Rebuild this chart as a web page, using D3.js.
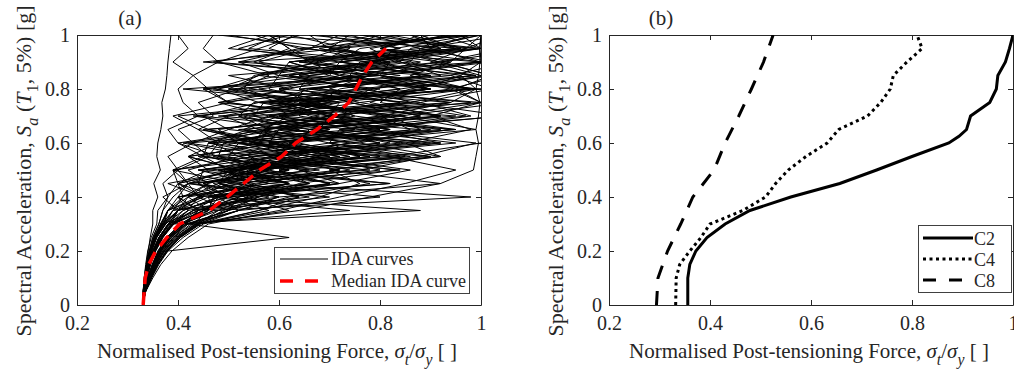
<!DOCTYPE html>
<html>
<head>
<meta charset="utf-8">
<script src="https://d3js.org/d3.v7.min.js"></script>
<style>
  body { margin: 0; background: #fff; }
  svg { display: block; }
  text { font-family: "Liberation Serif", "Times New Roman", serif; fill: #262626; }
</style>
</head>
<body>
<svg id="chart" width="1014" height="371"></svg>
<script>
// ---- data -------------------------------------------------------------
// intensity levels (Sa, g) used by every IDA curve in panel (a)
const saLevels = [0,0.05,0.1,0.15,0.2,0.25,0.3,0.35,0.4,0.45,0.5,0.55,0.6,0.65,0.7,0.75,0.8,0.85,0.9,0.95,1.0];

// normalised post-tensioning force of each IDA curve at each Sa level
const idaCurves = [
  [.33,.331,.333,.337,.341,.345,.35,.35,.36,.352,.365,.358,.36,.366,.37,.368,.375,.378,.38,.383,.386],
  [.33,.333,.337,.344,.352,.366,.386,.40,.37,.42,.39,.45,.40,.38,.44,.41,.40,.43,.39,.42,.40],
  [.33,.332,.336,.341,.347,.356,.372,.38,.45,.40,.52,.42,.48,.44,.39,.50,.46,.43,.48,.45,.47],
  [.33,.333,.338,.345,.354,.368,.39,.42,.55,.45,.62,.48,.40,.58,.70,.50,.45,.66,.55,.62,.58],
  [.33,.334,.341,.352,.365,.384,.415,.44,.40,.58,.48,.72,.55,.45,.82,.60,.52,.76,.88,.70,.66],
  [.33,.335,.346,.36,.378,.405,.445,.52,.48,.70,.56,.85,.62,.95,.75,.66,.90,.80,1.02,.88,1.05],
  [.33,.332,.335,.339,.345,.353,.368,.39,.45,.38,.52,.42,.60,.46,.40,.66,.50,.56,.72,.52,.62],
  [.33,.334,.344,.358,.38,.62,.42,.50,.44,.66,.52,.80,.58,.92,.70,.60,.88,.96,.78,1.0,.92],
  [.33,.333,.338,.346,.356,.37,.39,.88,.48,.62,.54,.78,.60,.90,.72,.56,.98,.80,.68,.95,.88],
  [.33,.334,.341,.352,.364,.382,.412,.47,.98,.58,.80,.66,.95,.72,1.05,.86,.78,1.02,.92,1.1,1.1],
  [.33,.334,.343,.354,.368,.39,.42,.50,.60,.92,.70,.88,.99,.76,1.04,1.1,1.1,1.1,1.1,1.1,1.1],
  [.33,.332,.334,.338,.344,.352,.366,.38,.42,.46,.56,.84,.52,.48,.70,.60,.80,.56,.68,.74,.62],
  [.33,.336,.348,.362,.38,.41,.45,.56,.64,.52,.76,.90,.70,.99,.84,1.05,1.1,1.1,1.1,1.1,1.1],
  [.33,.334,.339,.349,.36,.377,.405,.45,.55,.70,.58,.68,.85,.66,.92,.78,.86,1.0,.90,.97,1.04],
  [.33,.331,.334,.338,.343,.35,.362,.37,.39,.42,.40,.46,.43,.50,.45,.56,.48,.60,.52,.64,.55],
  [.33,.335,.344,.356,.372,.396,.435,.52,.62,.78,.64,.92,.76,.88,.82,1.0,.94,1.04,1.1,1.1,1.1],
  [.33,.333,.336,.342,.35,.362,.38,.46,.42,.58,.48,.66,.54,.76,.60,.84,.66,.90,.72,.95,.80],
  [.33,.331,.333,.336,.34,.347,.358,.36,.38,.37,.40,.38,.43,.40,.47,.44,.52,.58,.48,.56,.64],
  [.33,.335,.347,.36,.377,.402,.442,.58,.50,.72,.86,.66,.92,.78,.98,.88,1.02,.94,1.06,1.1,1.1],
  [.33,.333,.338,.344,.353,.366,.388,.43,.48,.56,.72,.52,.62,.82,.58,.70,.90,.64,.78,.92,.86],
  [.33,.332,.335,.34,.347,.357,.374,.40,.46,.55,.44,.64,.52,.70,.58,.48,.76,.62,.84,.70,.74],
  [.33,.334,.342,.352,.366,.386,.416,.50,.56,.64,.83,.60,.74,.94,.70,.86,.99,.80,1.0,.90,.98],
  [.33,.333,.337,.344,.354,.368,.39,.44,.52,.62,.50,.58,.74,.56,.84,.64,.90,.72,.62,.88,.78],
  [.33,.336,.35,.366,.388,.42,.46,.60,.72,.85,.95,.82,1.0,1.08,1.1,1.1,1.1,1.1,1.1,1.1,1.1],
  [.33,.332,.336,.341,.348,.358,.375,.41,.48,.40,.52,.60,.46,.54,.68,.50,.62,.74,.56,.66,.72],
  [.33,.333,.338,.345,.355,.37,.392,.45,.52,.62,.48,.70,.58,.78,.66,.60,.84,.74,.92,.80,.93],
  [.33,.334,.34,.349,.361,.378,.406,.48,.54,.66,.60,.76,.70,.86,.80,.94,.99,.96,1.0,.998,1.0],
  [.33,.332,.335,.339,.345,.354,.369,.40,.44,.50,.58,.47,.64,.53,.60,.72,.56,.78,.66,.84,.74],
  [.33,.334,.342,.353,.367,.387,.418,.52,.60,.48,.72,.58,.84,.66,.92,.76,.98,.86,.94,.97,1.0],
  [.33,.335,.345,.357,.373,.398,.436,.49,.56,.72,.64,.54,.80,.68,.88,.74,.64,.92,.84,.78,.94],
  [.33,.333,.337,.343,.351,.363,.382,.43,.56,.48,.50,.74,.58,.82,.64,.66,.90,.72,.78,.96,.86],
  [.33,.334,.34,.35,.363,.381,.409,.47,.46,.62,.52,.55,.80,.62,.75,.68,.72,.88,.80,.83,.98],
  [.33,.332,.335,.34,.346,.356,.371,.40,.50,.45,.58,.50,.52,.70,.58,.76,.64,.66,.86,.72,.80],
  [.33,.336,.347,.36,.378,.404,.443,.50,.52,.70,.60,.86,.70,.72,.97,.80,.84,1.02,.92,1.05,1.1],
  [.33,.333,.338,.344,.353,.367,.387,.42,.44,.54,.49,.66,.55,.57,.72,.62,.84,.70,.72,.90,.88],
  [.33,.334,.341,.351,.364,.383,.411,.44,.58,.48,.52,.68,.56,.58,.80,.63,.65,.90,.72,.76,.96],
  [.33,.332,.334,.339,.345,.355,.37,.44,.40,.42,.55,.46,.48,.64,.52,.55,.78,.60,.62,.84,.68],
  [.33,.334,.342,.355,.37,.39,.43,.46,.48,.66,.56,.76,.64,.66,.88,.74,.78,.98,.86,.88,1.0],
  [.33,.335,.345,.357,.374,.399,.438,.48,.64,.54,.56,.74,.62,.82,.70,.72,.94,.80,.82,1.0,.96],
  [.33,.331,.334,.338,.344,.353,.367,.38,.44,.42,.50,.45,.46,.56,.49,.62,.53,.55,.68,.58,.63],
  [.33,.333,.336,.342,.35,.362,.381,.40,.50,.44,.45,.60,.49,.66,.55,.57,.76,.62,.82,.68,.84],
  [.33,.336,.347,.36,.377,.402,.44,.62,.53,.55,.74,.60,.82,.68,.70,.94,.76,.99,.84,.86,1.0],
  [.33,.334,.341,.351,.364,.383,.412,.46,.47,.62,.51,.72,.58,.60,.82,.66,.90,.74,.76,.97,.82],
  [.33,.333,.337,.343,.351,.364,.384,.41,.48,.44,.57,.48,.49,.64,.53,.70,.58,.60,.80,.66,.79],
  [.33,.334,.343,.356,.372,.394,.434,.64,.78,.92,.985,.99,.995,.99,.995,.998,.99,.995,.998,.997,1.0],
  [.33,.335,.346,.359,.376,.401,.44,.56,.68,.76,.70,.92,.85,.98,.90,1.0,.95,1.02,1.05,1.1,1.1],
  [.33,.332,.335,.34,.346,.355,.37,.39,.41,.46,.42,.52,.47,.58,.52,.66,.60,.72,.66,.62,.58],
  [.33,.334,.34,.35,.362,.38,.41,.45,.54,.47,.62,.52,.70,.57,.62,.88,.70,.78,.94,.80,.88],
  [.33,.332,.336,.342,.35,.362,.38,.42,.40,.62,.44,.70,.46,.80,.48,.86,.50,.90,.52,.96,.55],
  [.33,.333,.338,.345,.355,.37,.39,.45,.70,.42,.78,.48,.88,.52,.92,.56,.98,.60,1.0,.64,1.0],
  [.33,.331,.334,.338,.344,.352,.365,.38,.40,.52,.39,.60,.42,.75,.44,.68,.41,.80,.45,.72,.48],
  [.33,.334,.342,.354,.37,.392,.425,.52,.80,.50,.84,.55,.90,.62,.95,.58,1.0,.66,.92,.70,.96],
  [.33,.333,.337,.343,.352,.364,.382,.40,.44,.72,.46,.82,.50,.88,.54,.94,.60,.84,.64,.99,.70],
  [.33,.332,.335,.34,.347,.357,.374,.39,.60,.42,.68,.44,.56,.46,.74,.48,.62,.50,.82,.54,.60],
  [.33,.334,.341,.352,.366,.386,.416,.74,.46,.82,.50,.90,.55,.95,.60,1.0,.66,.99,.72,1.0,.76],
  [.33,.333,.336,.341,.348,.358,.376,.40,.42,.48,.66,.45,.76,.50,.58,.86,.54,.70,.62,.92,.66],
  [.33,.332,.334,.338,.343,.35,.362,.37,.38,.40,.39,.55,.41,.62,.43,.70,.45,.80,.47,.66,.50],
  [.33,.334,.34,.35,.362,.379,.405,.45,.50,.82,.56,.62,.92,.60,.70,.98,.68,.76,1.0,.80,.90],
  [.33,.333,.337,.344,.354,.368,.39,.43,.66,.48,.54,.78,.52,.60,.85,.58,.66,.94,.64,.72,.98],
  [.33,.332,.335,.339,.345,.354,.369,.38,.41,.40,.46,.42,.60,.44,.50,.72,.47,.56,.78,.50,.58]
];

// median IDA curve
const medianSa = [0,0.05,0.1,0.15,0.2,0.25,0.3,0.35,0.4,0.45,0.5,0.55,0.6,0.65,0.7,0.75,0.8,0.85,0.9,0.95];
const medianX  = [0.331,0.333,0.335,0.342,0.356,0.378,0.403,0.462,0.497,0.53,0.562,0.605,0.633,0.675,0.71,0.738,0.752,0.766,0.784,0.812];

// panel (b) median curves per case
const c2Sa = [0,0.1,0.15,0.2,0.25,0.3,0.35,0.4,0.45,0.5,0.55,0.6,0.625,0.65,0.7,0.75,0.8,0.85,0.9,0.95,1.0];
const c2X  = [0.356,0.356,0.36,0.372,0.394,0.43,0.479,0.56,0.657,0.73,0.80,0.873,0.893,0.908,0.916,0.954,0.967,0.970,0.985,0.993,1.0];
const c4Sa = [0,0.1,0.15,0.2,0.25,0.3,0.35,0.4,0.45,0.5,0.55,0.6,0.65,0.7,0.75,0.8,0.85,0.9,0.95,1.0];
const c4X  = [0.332,0.333,0.34,0.36,0.382,0.40,0.465,0.51,0.53,0.555,0.59,0.632,0.655,0.712,0.738,0.757,0.763,0.79,0.82,0.81];
const c8Sa = [0,0.1,0.2,0.3,0.4,0.5,0.6,0.7,0.8,0.9,1.0];
const c8X  = [0.294,0.297,0.316,0.342,0.366,0.408,0.43,0.457,0.482,0.506,0.525];

const xTicks = [0.2,0.4,0.6,0.8,1];
const yTicks = [0,0.2,0.4,0.6,0.8,1];

// ---- drawing ----------------------------------------------------------
const svg = d3.select("#chart");
const ink = "#262626";

function richText(sel, parts, size) {
    // parts: [text, italic, subscript]
    let inSub = false;
    parts.forEach(function(p){
        let t = sel.append("tspan").text(p[0]);
        if (p[1]) t.style("font-style", "italic");
        if (p[2]) {
            t.style("font-size", (size*0.75) + "px");
            if (!inSub) t.attr("dy", size*0.32);
            inSub = true;
        } else if (inSub) {
            t.attr("dy", -size*0.32);
            inSub = false;
        }
    });
}

function makePanel(p, id, tag, tagX) {
    let x = d3.scaleLinear().domain([0.2, 1]).range([p.left, p.right]);
    let y = d3.scaleLinear().domain([0, 1]).range([p.bottom, p.top]);
    let g = svg.append("g");

    g.append("clipPath").attr("id", id)
        .append("rect")
        .attr("x", p.left).attr("y", p.top)
        .attr("width", p.right - p.left).attr("height", p.bottom - p.top);

    let fmt = function(d){ return String(d); };

    let bottom = g.append("g").attr("transform", "translate(0," + p.bottom + ")")
        .call(d3.axisBottom(x).tickValues(xTicks).tickSizeInner(-5).tickSizeOuter(0).tickPadding(11).tickFormat(fmt));
    g.append("g").attr("transform", "translate(" + p.left + ",0)")
        .call(d3.axisLeft(y).tickValues(yTicks).tickSizeInner(-5).tickSizeOuter(0).tickPadding(7).tickFormat(fmt));
    g.append("g").attr("transform", "translate(0," + p.top + ")")
        .call(d3.axisTop(x).tickValues(xTicks).tickSizeInner(-5).tickSizeOuter(0).tickFormat(""));
    g.append("g").attr("transform", "translate(" + p.right + ",0)")
        .call(d3.axisRight(y).tickValues(yTicks).tickSizeInner(-5).tickSizeOuter(0).tickFormat(""));

    g.selectAll(".domain, .tick line").attr("stroke", ink).attr("stroke-width", 1);
    g.selectAll(".tick text")
        .attr("fill", ink)
        .style("font-family", "'Liberation Serif', serif")
        .style("font-size", "20px");
    bottom.selectAll(".tick text").attr("dy", "0.71em");

    // x label
    let xl = g.append("text")
        .attr("x", (p.left + p.right) / 2 - 2)
        .attr("y", 358)
        .attr("text-anchor", "middle")
        .style("font-size", "21px");
    richText(xl, [["Normalised Post-tensioning Force, "], ["σ", true], ["t", true, true], ["/", false], ["σ", true], ["y", true, true], [" [ ]"]], 21);

    // y label
    let yl = g.append("text")
        .attr("transform", "translate(" + (p.left - 46) + "," + ((p.top + p.bottom) / 2 + 1) + ") rotate(-90)")
        .attr("text-anchor", "middle")
        .style("font-size", "22px");
    richText(yl, [["Spectral Acceleration, "], ["S", true], ["a", true, true], [" ("], ["T", true], ["1", false, true], [", 5%) [g]"]], 22);

    g.append("text")
        .attr("x", tagX).attr("y", 25)
        .attr("text-anchor", "middle")
        .style("font-size", "21px")
        .text(tag);

    let plot = g.append("g").attr("clip-path", "url(#" + id + ")");
    return {x: x, y: y, g: g, plot: plot};
}

// panel (a)
const pa = makePanel({left: 77, right: 481, top: 35, bottom: 305}, "clipA", "(a)", 130);

let idaLine = d3.line()
    .defined(function(d){ return d[1] != null; })
    .x(function(d){ return pa.x(d[0]); })
    .y(function(d){ return pa.y(d[1]); });

pa.plot.selectAll(".ida")
    .data(idaCurves)
    .enter().append("path")
    .attr("class", "ida")
    .attr("d", function(c){
        return idaLine(c.map(function(v, i){ return [v, saLevels[i]]; }));
    })
    .attr("fill", "none")
    .attr("stroke", "#000")
    .attr("stroke-width", 1)
    .attr("stroke-linejoin", "round");

pa.plot.append("path")
    .attr("d", idaLine(medianX.map(function(v, i){ return [v, medianSa[i]]; })))
    .attr("fill", "none")
    .attr("stroke", "#ff0000")
    .attr("stroke-width", 3.5)
    .attr("stroke-dasharray", "13,8");

// legend (a)
let legA = pa.g.append("g");
legA.append("rect")
    .attr("x", 274.5).attr("y", 247.5).attr("width", 195).attr("height", 46)
    .attr("fill", "#fff").attr("stroke", "#404040").attr("stroke-width", 1);
legA.append("line").attr("x1", 280).attr("x2", 328).attr("y1", 259).attr("y2", 259)
    .attr("stroke", "#000").attr("stroke-width", 1);
legA.append("line").attr("x1", 280).attr("x2", 328).attr("y1", 281).attr("y2", 281)
    .attr("stroke", "#ff0000").attr("stroke-width", 3.5).attr("stroke-dasharray", "13,12");
legA.append("text").attr("x", 331).attr("y", 265).style("font-size", "18px").text("IDA curves");
legA.append("text").attr("x", 331).attr("y", 287).style("font-size", "18px").text("Median IDA curve");

// panel (b)
const pb = makePanel({left: 609, right: 1013, top: 35, bottom: 305}, "clipB", "(b)", 661);

let caseLine = d3.line()
    .x(function(d){ return pb.x(d[0]); })
    .y(function(d){ return pb.y(d[1]); });

const cases = [
    {name: "C2", xs: c2X, sa: c2Sa, dash: null},
    {name: "C4", xs: c4X, sa: c4Sa, dash: "3,3.5"},
    {name: "C8", xs: c8X, sa: c8Sa, dash: "14,12"}
];

pb.plot.selectAll(".case")
    .data(cases)
    .enter().append("path")
    .attr("class", "case")
    .attr("d", function(c){
        return caseLine(c.xs.map(function(v, i){ return [v, c.sa[i]]; }));
    })
    .attr("fill", "none")
    .attr("stroke", "#000")
    .attr("stroke-width", 3)
    .attr("stroke-dasharray", function(c){ return c.dash; });

// legend (b)
let legB = pb.g.append("g");
legB.append("rect")
    .attr("x", 918.5).attr("y", 225.5).attr("width", 93).attr("height", 67)
    .attr("fill", "#fff").attr("stroke", "#404040").attr("stroke-width", 1);
let rowsB = legB.selectAll(".row").data(cases).enter().append("g")
    .attr("transform", function(d, i){ return "translate(0," + (238 + i * 21) + ")"; });
rowsB.append("line")
    .attr("x1", 923).attr("x2", 973).attr("y1", 0).attr("y2", 0)
    .attr("stroke", "#000").attr("stroke-width", 3)
    .attr("stroke-dasharray", function(d){ return d.name == "C8" ? "13,13" : d.dash; });
rowsB.append("text")
    .attr("x", 974).attr("y", 6.5)
    .style("font-size", "18px")
    .text(function(d){ return d.name; });
</script>
</body>
</html>
